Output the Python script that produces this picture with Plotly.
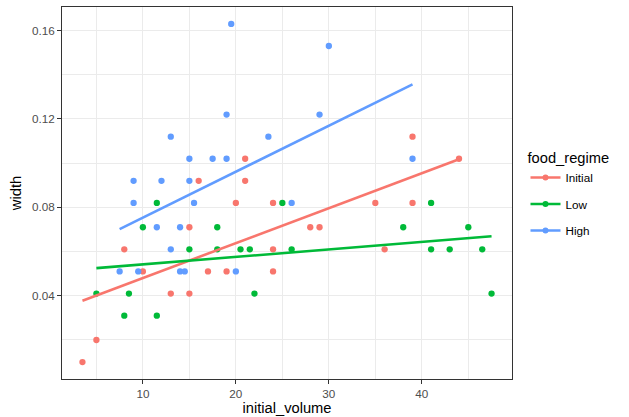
import numpy as np
import plotly.graph_objects as go

# ---- data ----
initial_x = [3.5, 5, 8, 10, 13, 15, 15, 16, 17, 19, 20, 21, 21, 24, 24, 24, 28, 29, 35, 36, 39, 39, 44]
initial_y = [0.010, 0.020, 0.061, 0.051, 0.041, 0.041, 0.071, 0.092, 0.051, 0.051, 0.082, 0.092, 0.102,
             0.082, 0.061, 0.051, 0.071, 0.071, 0.082, 0.061, 0.112, 0.082, 0.102]

low_x = [5, 8, 8.5, 10, 11.5, 11.5, 15, 18, 18, 20.5, 21.5, 22, 25, 26, 38, 41, 41, 43, 45, 46.5, 47.5]
low_y = [0.041, 0.031, 0.041, 0.071, 0.031, 0.082, 0.061, 0.071, 0.061, 0.061, 0.061, 0.041, 0.082,
         0.061, 0.071, 0.082, 0.061, 0.061, 0.071, 0.061, 0.041]

high_x = [7.5, 9, 9, 9.5, 11.5, 12, 13, 13, 14, 14, 14.5, 15, 15, 15.5, 17.5, 19, 19, 19.5, 20, 23.5,
          26, 29, 30, 39]
high_y = [0.051, 0.092, 0.082, 0.051, 0.071, 0.092, 0.112, 0.061, 0.071, 0.051, 0.051, 0.102, 0.092,
          0.082, 0.102, 0.122, 0.102, 0.163, 0.051, 0.112, 0.082, 0.122, 0.153, 0.102]

groups = ["Initial", "Low", "High"]
colors = ["#F8766D", "#00BA38", "#619CFF"]
xs = [initial_x, low_x, high_x]
ys = [initial_y, low_y, high_y]

x_ticks = [10, 20, 30, 40]
y_ticks = [0.04, 0.08, 0.12, 0.16]
y_tick_labels = ["0.04", "0.08", "0.12", "0.16"]

fig = go.Figure()

for name, col, gx, gy in zip(groups, colors, xs, ys):
    fig.add_trace(go.Scatter(x=gx, y=gy, mode="markers", showlegend=False,
                             marker=dict(color=col, size=6.3, line=dict(width=0)),
                             hoverinfo="x+y"))

for name, col, gx, gy in zip(groups, colors, xs, ys):
    gx_a = np.array(gx, float)
    gy_a = np.array(gy, float)
    slope, icpt = np.polyfit(gx_a, gy_a, 1)
    lx = np.linspace(gx_a.min(), gx_a.max(), 80)
    fig.add_trace(go.Scatter(x=lx, y=slope * lx + icpt, mode="lines", showlegend=False,
                             line=dict(color=col, width=2.6), hoverinfo="skip"))

for i, (name, col) in enumerate(zip(groups, colors)):
    fig.add_trace(go.Scatter(x=[None], y=[None], mode="lines+markers", name=name,
                             legendgroup=f"g{i}",
                             marker=dict(color=col, size=6), line=dict(color=col, width=2.6)))

allx = np.concatenate([np.array(v, float) for v in xs])
ally = np.concatenate([np.array(v, float) for v in ys])
xr = allx.max() - allx.min()
yr = ally.max() - ally.min()
x_range = [allx.min() - 0.05 * xr, allx.max() + 0.05 * xr]
y_range = [ally.min() - 0.05 * yr, ally.max() + 0.05 * yr]

axis_common = dict(
    showline=True, mirror=True, linecolor="#333333", linewidth=1,
    ticks="outside", ticklen=4, tickwidth=1, tickcolor="#333333",
    showgrid=True, gridcolor="#EBEBEB", gridwidth=1.1,
    zeroline=False,
    tickfont=dict(family="Liberation Sans, Arial", size=11.7, color="#4D4D4D"),
)

fig.update_layout(
    template="none",
    width=629, height=417, autosize=False,
    margin=dict(l=62, r=117, t=7, b=38, autoexpand=False),
    paper_bgcolor="white", plot_bgcolor="white",
    font=dict(family="Liberation Sans, Arial", color="black"),
    xaxis=dict(range=x_range, tickvals=x_ticks,
               minor=dict(dtick=5, tick0=0, showgrid=True, gridcolor="#EBEBEB", gridwidth=0.55),
               title=dict(text="initial_volume", font=dict(size=14.7, color="black"), standoff=3),
               **axis_common),
    yaxis=dict(range=y_range, tickvals=y_ticks, ticktext=y_tick_labels,
               minor=dict(dtick=0.02, tick0=0, showgrid=True, gridcolor="#EBEBEB", gridwidth=0.55),
               title=dict(text="width", font=dict(size=14.7, color="black"), standoff=6),
               **axis_common),
    legend=dict(x=1.03, xanchor="left", y=0.632, yanchor="top",
                title=dict(text="food_regime", font=dict(size=14.7, color="black")),
                font=dict(size=11.7, color="black"), tracegroupgap=7.5,
                bgcolor="rgba(0,0,0,0)", itemwidth=30),
)

fig.write_html("out.html", config={"displayModeBar": False},
               post_script="document.body.style.margin='0';document.body.style.padding='0';")
